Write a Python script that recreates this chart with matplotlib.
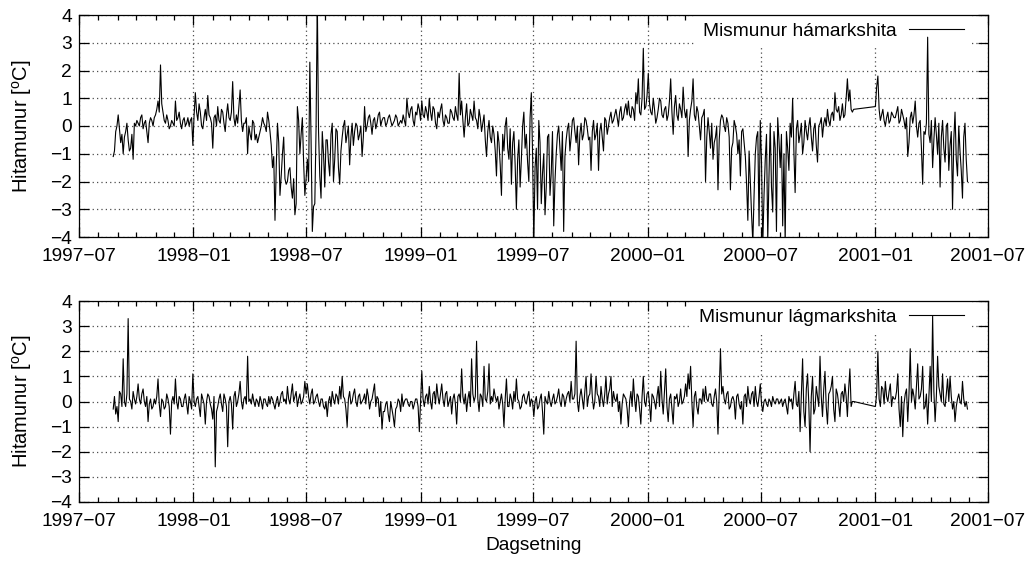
import matplotlib
matplotlib.use("Agg")
import matplotlib.pyplot as plt
import matplotlib.dates as mdates
from matplotlib.ticker import FuncFormatter, MultipleLocator
import pandas as pd

plt.rcParams['font.family'] = ['Liberation Sans', 'DejaVu Sans']
plt.rcParams['mathtext.fontset'] = 'custom'
plt.rcParams['mathtext.rm'] = 'Liberation Sans'
plt.rcParams['mathtext.it'] = 'Liberation Sans:italic'
plt.rcParams['font.size'] = 13.8

# Gildi lesin af myndinni: eitt gildi a 4 daga fresti (hamark_1 o.s.frv.)
# og onnur lesin mitt a milli theirra (hamark_1b o.s.frv., 2 dogum sidar)
start_1 = '1997-08-25'   # fyrri kafli, til ca. 2000-11-26
start_2 = '2001-01-01'   # seinni kafli, til ca. 2001-05-30
step = '4D'

hamark_1 = [
    -1.1, -0.2,
    0.4, -0.6, -1.0, -0.2, -0.5, -0.8, -1.2, 0.0,
    0.1, 0.3, -0.1, 0.2, -0.6, 0.3, 0.0,
    0.4, 0.9, 2.2, 0.5, 0.1, 0.2, 0.0, 0.1,
    0.9, 0.3, 0.1, 0.2, 0.0, 0.3, 0.2, -0.7,
    # 1998
    1.2, 0.2, 0.5, -0.1, 0.6, 1.1, 0.3,
    -0.8, 0.4, 0.7, 0.1, 0.5, -0.2, 0.8,
    0.2, 1.6, 0.0, 0.1, 1.3, -0.2, 0.1, -1.0,
    -0.3, 0.2, -0.5, -0.6, -0.2, 0.3, 0.0, 0.5,
    -0.2, -1.5, -3.4, 0.1, -2.5, -1.0, -1.9,
    -2.0, -1.5, -2.6, -3.2, 0.7, -1.0, 0.3, -2.5,
    -1.2, 2.3, -3.8, -2.8, 4.6, -1.8, -0.2, -2.2,
    -0.5, -1.8, 0.1, -1.2, -0.2, -2.1, -0.4,
    0.2, -0.3, -1.4, 0.1, -0.2, 0.0, -0.3, -1.1,
    0.7, 0.0, 0.4, -0.3, 0.3, 0.1, 0.5, 0.2,
    0.3, 0.1, 0.4, 0.0, 0.2, 0.3, 0.1,
    0.1, 0.2, 1.0, 0.3, 0.7, 0.0, 0.4, 0.6,
    # 1999
    0.9, 0.3, 0.5, 1.0, 0.2, 0.6, -0.1, 0.3,
    0.8, 0.0, 0.3, 0.1, 0.5, 0.2, 0.4,
    1.9, 0.9, -0.4, 0.8, 0.1, 0.4, 0.9,
    0.2, 0.6, -0.2, 0.4, -1.1, 0.2, -0.6, -0.3,
    -1.8, -0.6, -2.5, -0.9, 0.3, -1.2, -2.1, -0.2,
    -3.0, -0.5, -1.2, 0.5, -0.3, -2.0, 1.2,
    -4.2, -0.8, 0.2, -2.8, -1.0, -2.2, -0.3, -1.7,
    -3.6, -1.0, 0.0, -1.6, -3.8, -0.5, 0.1, -0.4,
    0.3, -0.6, -1.4, 0.1, -0.3, 0.2, -0.5,
    -1.6, 0.2, -0.3, -1.6, 0.1, -0.9, 0.2, 0.0,
    0.5, 0.2, 0.6, 0.0, 0.7, 0.3, 0.8,
    0.9, 0.3, 0.6, 1.2, 1.7, 0.4, 2.8, 0.7,
    # 2000
    1.9, 0.5, 1.0, 0.1, 0.6, 0.9, 0.3, 0.7,
    0.4, 1.7, -0.3, 1.1, 0.2, 0.6, 1.4,
    0.3, -1.1, 0.6, 1.7, 0.2, 0.5, -0.5, 0.4,
    -2.0, 0.3, -0.8, -1.2, -0.4, -2.3, 0.2,
    0.3, -0.2, 0.1, -2.3, -0.6, 0.0, -1.0, -1.8,
    -0.1, -1.1, -3.4, -2.0, -4.2, -1.0, -0.2, 0.2,
    -4.3, -1.2, -4.1, 0.1, -3.1, -0.8, 0.3,
    -1.5, -3.6, -4.2, -0.8, 0.1, 1.0, -2.4, 0.2,
    -0.3, -1.0, 0.2, -0.5, 0.3, -0.9, 0.1, -1.3,
    0.1, -0.4, 0.3, 0.6, 0.0, 0.5, 1.2,
    0.5, 0.2, 0.8, 0.4, 1.7, 1.3, 0.5,
]
hamark_1b = [
    -0.9, 0.0,
    -0.1, -0.3, -0.4, 0.1, -0.9, -0.3, 0.1, 0.2,
    0.0, 0.4, 0.1, -0.2, 0.1, 0.2, 0.3,
    0.6, 0.5, 0.8, 0.2, 0.4, -0.1, 0.2, 0.0,
    0.2, 0.5, -0.1, 0.3, 0.1, 0.0, 0.3, 0.4,
    # 1998
    0.5, 0.8, 0.0, 0.3, 0.2, 0.4, 0.1,
    0.3, 0.0, 0.2, 0.6, 0.1, 0.4, 0.3,
    0.5, 0.3, 0.4, 0.7, 0.2, 0.1, 0.3, 0.0,
    -0.5, 0.1, -0.3, -0.4, 0.0, 0.1, -0.2, 0.2,
    -0.7, -1.1, -1.5, -0.6, -1.8, -0.4, -2.1,
    -1.6, -2.2, -1.9, -2.8, 0.2, -0.3, -1.3, -1.9,
    -2.0, -0.5, -2.9, -0.1, -0.2, -2.6, -1.0, -0.5,
    -1.3, -0.3, -2.0, -0.1, -1.5, -0.9, 0.0,
    -0.6, 0.0, -0.4, -0.7, 0.1, -0.5, 0.0, -0.4,
    -0.2, 0.3, 0.1, 0.2, -0.1, 0.4, 0.0, 0.3,
    0.0, 0.3, 0.2, 0.1, 0.4, 0.0, 0.2,
    0.4, 0.0, 0.5, 0.6, 0.2, 0.5, 0.8, 0.2,
    # 1999
    0.4, 0.7, 0.2, 0.5, 0.7, 0.1, 0.5, 0.6,
    0.2, 0.4, 0.1, 0.6, 0.3, 0.7, 0.2,
    0.4, 0.2, 0.3, 0.0, 0.6, 0.2, 0.3,
    -0.1, 0.3, 0.1, -0.5, -0.2, -0.4, 0.0, -0.9,
    -0.2, -1.4, -0.3, 0.0, -0.8, -0.1, -0.6, -1.4,
    -1.2, -2.2, 0.0, -0.8, -1.3, 0.3, -1.0,
    -1.5, -3.0, -0.6, -1.7, -3.2, -0.4, -2.5, -0.2,
    -2.0, -0.3, -0.8, -0.2, -1.1, -0.1, -0.9, 0.2,
    -0.2, 0.0, -0.3, -0.5, 0.3, -0.1, -0.4,
    -0.2, -0.5, 0.1, -0.2, -0.4, 0.3, -0.3, 0.3,
    0.1, 0.4, 0.3, 0.5, 0.2, 0.6, 0.4,
    0.4, 0.7, 0.2, 0.8, 0.5, 1.0, 0.6, 1.1,
    # 2000
    0.8, 0.4, 0.6, 0.3, 1.0, 0.4, 0.6, 0.2,
    0.9, 0.5, 0.7, 0.4, 0.8, 0.3, 0.6,
    0.6, 0.2, 0.9, 0.4, 0.7, 0.0, 0.3, 0.6,
    -0.4, -0.2, 0.1, -0.6, 0.0, -0.5, 0.4,
    0.0, 0.3, -0.4, -0.8, 0.2, -0.3, -0.5, -0.2,
    -0.6, -2.1, -0.9, -3.2, -2.5, -0.4, -3.6, -1.3,
    -2.5, -0.3, -1.8, -2.2, -0.2, -3.8, -0.5,
    -0.3, -1.0, -0.2, -1.6, -0.4, -0.9, -0.1, -0.6,
    0.1, -0.6, -0.2, 0.0, -0.4, -0.1, -0.7, 0.0,
    0.3, 0.1, 0.0, 0.2, 0.4, 0.2, 0.6,
    0.7, 0.4, 0.3, 1.0, 0.9, 0.6, 0.6,
]
hamark_2 = [
    0.7, 1.8, 0.2, 0.6, 0.0, 0.5, 0.2, 0.4,
    0.3, 0.7, 0.2, 0.4, -0.1, -1.1, 0.3,
    0.1, 0.9, -0.4, 0.2, -2.1, -0.3, 3.2, -0.6,
    -1.5, 0.3, -1.0, -2.2, 0.2, -1.3, 0.1,
    -0.7, -3.0, 0.5, -1.8, -0.9, -2.6, 0.1, -2.0,
]
hamark_2b = [
    1.4, 0.6, 0.4, 0.2, 0.3, 0.1, 0.5, 0.3,
    0.5, 0.1, 0.6, 0.2, 0.3, -0.6, 0.5,
    0.4, 0.0, 0.1, -0.8, -0.2, 0.1, -0.3, 0.2,
    -0.5, -0.3, 0.1, -0.4, -0.8, 0.0, -1.6,
    -0.2, -0.5, -1.2, 0.0, -1.6, -0.4, -1.2,
]

lagmark_1 = [
    -0.3, -0.5,
    -0.8, 0.3, 1.7, -0.2, 3.3, 0.0, 0.4, -0.1,
    0.7, -0.1, 0.5, -0.2, -0.8, 0.1, -0.2,
    -0.1, 0.9, -0.6, 0.0, -0.2, 0.1, -1.3, 0.2,
    0.9, -0.3, 0.1, -0.2, 0.3, -0.5, 0.0, 1.1,
    # 1998
    -0.2, 0.2, -0.6, 0.1, -0.9, 0.3, -0.1,
    -0.7, -2.6, -0.2, 0.3, -0.4, 0.1, -1.8,
    0.2, -1.1, 0.4, 0.0, 0.8, -0.3, 0.2, 1.8,
    0.1, 0.3, -0.2, 0.0, 0.2, -0.3, 0.1, -0.2,
    -0.1, 0.1, -0.3, 0.2, 0.0, 0.4, 0.1,
    0.6, -0.1, 0.7, 0.2, -0.2, 0.3, 0.0, 0.8,
    0.7, -0.1, 0.5, 0.0, 0.3, -0.2, 0.1, -0.3,
    -0.6, 0.2, 0.4, -0.1, 0.2, 0.6, 1.0,
    0.1, -1.0, 0.4, 0.0, 0.5, -0.2, 0.3, 0.0,
    0.3, 0.5, -0.3, 0.1, 0.7, 0.2, -0.6, -1.1,
    -0.4, 0.0, -0.8, -0.3, -1.0, -0.2, 0.0,
    0.3, 0.0, 0.1, -0.2, 0.0, -0.1, 0.1, -1.2,
    # 1999
    1.2, -0.2, 0.3, 0.6, -0.3, 0.4, 0.7, -0.1,
    0.7, -0.2, 0.4, 0.0, -0.5, 0.3, -0.9,
    0.3, 1.3, -0.1, -0.4, 0.4, 1.7, 0.0,
    2.4, -0.4, 0.2, 1.4, 0.0, 1.5, 0.2, 0.5,
    0.0, -0.3, 0.3, -1.0, 0.9, -0.2, 0.1, 0.4,
    0.9, 0.0, -0.2, 0.3, -0.1, 0.4, 0.1,
    -0.6, 0.2, -0.2, 0.3, -1.3, 0.0, 0.4, -0.2,
    0.3, 0.0, 0.5, -0.2, 0.2, 0.1, 0.4, 0.8,
    0.1, 2.4, -0.4, 0.5, -0.3, 1.0, 0.2,
    1.1, -0.3, 1.0, 0.2, 0.6, -0.2, 1.0, 0.3,
    1.0, 0.4, 0.0, -0.4, -0.9, 0.3, 0.1,
    -1.0, 0.4, 0.9, -0.4, 0.2, -0.9, 1.0, -0.2,
    # 2000
    0.4, -0.8, 0.2, -0.3, 0.6, 1.2, -0.5, 1.3,
    -0.8, 0.3, -0.9, 0.1, -0.2, 0.5, 0.0,
    0.7, 1.1, 1.4, -1.0, 0.4, -0.5, 0.1, 0.5,
    0.6, 0.0, 0.3, -0.2, 0.5, -1.3, 2.1,
    0.6, -0.1, 0.4, -0.2, 0.2, -0.7, 0.3, -0.3,
    -0.9, 0.3, 0.6, -0.1, 0.4, 0.6, -0.2, 0.7,
    -0.4, 0.1, -0.2, 0.0, 0.2, -0.1, 0.1,
    0.0, -0.2, 0.1, -0.5, 0.0, -0.3, 0.8, -0.2,
    -1.2, 1.7, -1.0, 1.1, -2.0, 1.0, -0.3, 0.2,
    1.8, -0.6, 1.2, -0.9, 0.4, 1.0, -0.8,
    0.3, -0.6, 0.4, 0.7, -0.6, 1.3, 0.0,
]
lagmark_1b = [
    0.2, -0.2,
    0.4, -0.2, 0.0, 0.3, 0.1, -0.3, 0.1, 0.2,
    0.1, 0.3, 0.0, 0.2, -0.1, -0.3, 0.1,
    0.2, -0.1, 0.1, -0.3, 0.3, -0.2, 0.0, -0.1,
    0.0, 0.2, -0.2, 0.1, -0.1, 0.2, -0.3, 0.0,
    # 1998
    0.1, -0.2, 0.3, -0.1, 0.0, 0.2, -0.3,
    0.2, -0.4, 0.1, -0.1, 0.3, -0.2, 0.0,
    -0.1, 0.2, -0.2, 0.3, 0.0, 0.1, -0.1, 0.0,
    -0.1, 0.0, 0.1, -0.2, 0.0, 0.1, -0.1, 0.2,
    0.2, -0.1, 0.0, -0.2, 0.3, 0.0, -0.1,
    0.1, 0.3, 0.0, 0.4, 0.1, -0.1, 0.2, 0.3,
    0.2, 0.3, -0.1, 0.2, 0.0, 0.1, -0.2, 0.0,
    0.0, -0.2, 0.1, 0.3, -0.1, 0.1, 0.2,
    -0.3, 0.1, -0.1, 0.3, 0.0, 0.2, -0.1, 0.1,
    -0.1, 0.2, 0.0, 0.4, -0.2, 0.1, 0.0, -0.4,
    -0.1, -0.5, 0.0, -0.6, -0.3, 0.1, -0.4,
    -0.2, 0.1, -0.1, 0.0, -0.3, 0.1, -0.2, 0.0,
    # 1999
    0.1, 0.2, -0.1, 0.0, 0.3, -0.1, 0.2, 0.3,
    0.1, 0.3, -0.2, 0.2, 0.1, -0.1, 0.2,
    0.0, 0.2, 0.3, 0.1, -0.2, 0.3, 0.2,
    0.1, 0.3, -0.2, 0.1, 0.4, -0.1, 0.0, 0.2,
    0.2, 0.0, -0.1, 0.1, -0.2, 0.3, -0.3, 0.0,
    0.1, -0.3, 0.2, 0.0, 0.2, -0.2, 0.0,
    0.0, -0.3, 0.1, -0.4, 0.2, -0.1, 0.0, 0.1,
    -0.1, 0.2, 0.0, 0.3, -0.2, 0.3, 0.0, 0.1,
    0.3, 0.0, 0.2, 0.1, 0.4, -0.2, 0.3,
    0.2, 0.0, 0.3, -0.2, 0.1, 0.3, -0.1, 0.5,
    -0.2, 0.1, 0.3, 0.0, -0.1, 0.2, -0.3,
    0.0, -0.2, 0.1, 0.3, -0.3, 0.2, 0.0, 0.3,
    # 2000
    -0.1, 0.3, 0.0, 0.2, -0.2, 0.1, 0.4, -0.2,
    0.1, -0.3, 0.2, 0.3, 0.0, -0.1, 0.2,
    0.2, 0.5, 0.0, 0.2, -0.2, 0.1, -0.1, 0.0,
    0.1, 0.3, -0.1, 0.2, 0.0, 0.4, 0.3,
    0.1, 0.3, -0.3, 0.1, 0.0, 0.2, -0.1, 0.0,
    0.2, -0.2, 0.1, 0.3, -0.2, 0.0, 0.2, -0.1,
    0.0, -0.1, 0.1, -0.2, 0.0, 0.1, -0.1,
    0.1, 0.0, -0.2, 0.2, 0.1, 0.3, -0.1, 0.4,
    0.3, -0.4, 0.5, -0.1, 0.2, -0.5, 0.6, -0.2,
    0.2, 0.5, -0.2, 0.3, 0.6, -0.3, 0.5,
    -0.1, 0.3, 0.0, 0.2, 0.5, -0.2, 0.0,
]
lagmark_2 = [
    -0.2, 2.0, -0.2, 0.5, 0.8, 0.0, 0.7, 0.2,
    0.1, 1.1, -1.0, -1.4, 0.3, -0.8, 2.1,
    0.5, -0.3, 1.5, 0.2, 1.4, -0.2, -0.9, 1.4,
    3.4, -0.8, 1.8, 0.3, 1.1, -0.2, 0.9,
    1.0, -0.3, -0.8, 0.1, 0.0, 0.8, -0.2, -0.3,
]
lagmark_2b = [
    0.3, 0.1, 0.6, -0.1, 0.2, 0.4, -0.2, 0.1,
    0.4, -0.3, 0.2, -0.1, 0.5, 0.3, 0.0,
    0.2, 0.6, 0.1, 0.5, -0.3, 0.3, 0.2, 0.0,
    0.4, 0.2, 0.6, 0.0, -0.1, 0.3, 0.0,
    0.2, 0.0, -0.2, 0.3, -0.1, 0.1, 0.0,
]


def reeks(v1, v1b, v2, v2b):
    tveir = pd.Timedelta(days=2)
    hlutar = []
    for byrjun, v, vb in ((start_1, v1, v1b), (start_2, v2, v2b)):
        t0 = pd.Timestamp(byrjun)
        hlutar.append(pd.Series(v, index=pd.date_range(t0, periods=len(v), freq=step)))
        hlutar.append(pd.Series(vb, index=pd.date_range(t0 + tveir, periods=len(vb), freq=step)))
    return pd.concat(hlutar).sort_index()


def dags_snid(x, pos):
    d = mdates.num2date(x)
    return f"{d.year}\u2212{d.month:02d}"


def teikna(ax, s, texti):
    ax.plot(s.index, s.values, color='black', lw=0.8, label=texti, zorder=3)
    ax.set_xlim(pd.Timestamp('1997-07-01'), pd.Timestamp('2001-07-01'))
    ax.set_ylim(-4, 4)
    ax.xaxis.set_major_locator(mdates.MonthLocator(bymonth=[1, 7]))
    ax.xaxis.set_minor_locator(mdates.MonthLocator())
    ax.xaxis.set_major_formatter(FuncFormatter(dags_snid))
    ax.yaxis.set_major_locator(MultipleLocator(1))
    ax.tick_params(which='both', direction='in', top=True, right=True, width=0.9)
    ax.tick_params(which='major', length=7)
    ax.tick_params(axis='x', which='major', pad=8)
    ax.tick_params(axis='y', which='major', pad=5)
    ax.tick_params(which='minor', length=3.5)
    ax.grid(True, which='major', color='0.3', linestyle=(0, (1, 2.5)), linewidth=0.9)
    for sp in ax.spines.values():
        sp.set_linewidth(0.9)
    ax.set_ylabel('Hitamunur [$^{\\mathrm{o}}$C]', labelpad=12, fontsize=14.5)
    leg = ax.legend(loc='upper right', bbox_to_anchor=(0.982, 1.0), borderaxespad=0,
                    markerfirst=False, handlelength=2.85, handletextpad=0.68,
                    borderpad=0.4, frameon=True, fancybox=False, edgecolor='none',
                    facecolor='white', framealpha=1)
    leg.set_zorder(1.8)


fig = plt.figure(figsize=(10.28, 5.64), dpi=100)
ax1 = fig.add_axes([79 / 1028, 1 - 237 / 564, 909 / 1028, 222 / 564])
ax2 = fig.add_axes([79 / 1028, 1 - 502 / 564, 909 / 1028, 201 / 564])

teikna(ax1, reeks(hamark_1, hamark_1b, hamark_2, hamark_2b), 'Mismunur hámarkshita')
teikna(ax2, reeks(lagmark_1, lagmark_1b, lagmark_2, lagmark_2b), 'Mismunur lágmarkshita')
ax2.set_xlabel('Dagsetning', labelpad=5)

fig.savefig('out.png', dpi=100)
